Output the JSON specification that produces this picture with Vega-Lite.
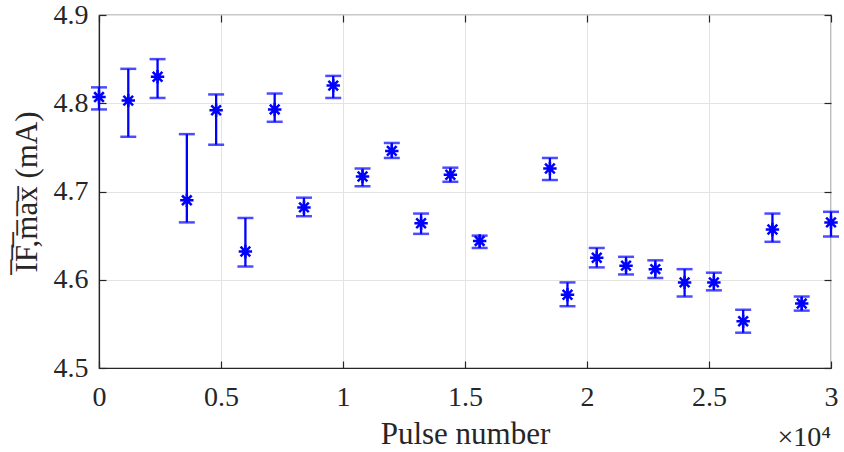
{
  "$schema": "https://vega.github.io/schema/vega-lite/v6.json",
  "width": 732,
  "height": 353,
  "autosize": "none",
  "padding": {"left": 99, "top": 15, "right": 13, "bottom": 84},
  "background": "white",
  "config": {
    "font": "Liberation Serif, Times New Roman, serif",
    "view": {"stroke": "#262626", "strokeWidth": 1.2},
    "axis": {
      "labelFont": "Liberation Serif, Times New Roman, serif",
      "titleFont": "Liberation Serif, Times New Roman, serif",
      "labelFontSize": 28,
      "titleFontSize": 31,
      "labelColor": "#262626",
      "titleColor": "#262626",
      "titleFontWeight": "normal",
      "labelFlush": false,
      "domainColor": "#262626",
      "domainWidth": 1.2,
      "tickColor": "#262626",
      "tickWidth": 1.2,
      "tickSize": -7,
      "gridColor": "#e3e3e3",
      "gridWidth": 1
    }
  },
  "title": {
    "text": "×10⁴",
    "orient": "bottom",
    "anchor": "end",
    "frame": "group",
    "fontSize": 28,
    "fontWeight": "normal",
    "font": "Liberation Serif, Times New Roman, serif",
    "color": "#262626",
    "offset": -25
  },
  "data": {
    "values": [
      {"pulse": 0, "mean": 4.807, "lo": 4.793, "hi": 4.818},
      {"pulse": 1200, "mean": 4.803, "lo": 4.762, "hi": 4.839},
      {"pulse": 2400, "mean": 4.830, "lo": 4.806, "hi": 4.850},
      {"pulse": 3600, "mean": 4.690, "lo": 4.665, "hi": 4.765},
      {"pulse": 4800, "mean": 4.792, "lo": 4.753, "hi": 4.810},
      {"pulse": 6000, "mean": 4.632, "lo": 4.615, "hi": 4.670},
      {"pulse": 7200, "mean": 4.793, "lo": 4.779, "hi": 4.811},
      {"pulse": 8400, "mean": 4.682, "lo": 4.672, "hi": 4.693},
      {"pulse": 9600, "mean": 4.820, "lo": 4.806, "hi": 4.831},
      {"pulse": 10800, "mean": 4.717, "lo": 4.706, "hi": 4.726},
      {"pulse": 12000, "mean": 4.746, "lo": 4.738, "hi": 4.755},
      {"pulse": 13200, "mean": 4.664, "lo": 4.652, "hi": 4.675},
      {"pulse": 14400, "mean": 4.719, "lo": 4.711, "hi": 4.727},
      {"pulse": 15600, "mean": 4.644, "lo": 4.636, "hi": 4.650},
      {"pulse": 18480, "mean": 4.726, "lo": 4.713, "hi": 4.738},
      {"pulse": 19200, "mean": 4.583, "lo": 4.570, "hi": 4.597},
      {"pulse": 20400, "mean": 4.625, "lo": 4.614, "hi": 4.636},
      {"pulse": 21600, "mean": 4.616, "lo": 4.606, "hi": 4.626},
      {"pulse": 22800, "mean": 4.612, "lo": 4.602, "hi": 4.622},
      {"pulse": 24000, "mean": 4.597, "lo": 4.581, "hi": 4.612},
      {"pulse": 25200, "mean": 4.597, "lo": 4.588, "hi": 4.608},
      {"pulse": 26400, "mean": 4.553, "lo": 4.540, "hi": 4.566},
      {"pulse": 27600, "mean": 4.657, "lo": 4.643, "hi": 4.675},
      {"pulse": 28800, "mean": 4.573, "lo": 4.565, "hi": 4.581},
      {"pulse": 30000, "mean": 4.665, "lo": 4.649, "hi": 4.677}
    ]
  },
  "layer": [
    {
      "mark": {"type": "errorbar", "ticks": {"size": 16, "thickness": 2.5, "color": "#0000ff"}, "rule": {"strokeWidth": 2.3, "color": "#0000ff"}, "color": "#0000ff", "clip": false},
      "encoding": {
        "x": {
          "field": "pulse", "type": "quantitative",
          "scale": {"domain": [0, 30000], "nice": false},
          "axis": {
            "values": [0, 5000, 10000, 15000, 20000, 25000, 30000],
            "labelExpr": "'' + datum.value / 10000",
            "title": "Pulse number",
            "labelPadding": 22,
            "titlePadding": 8
          }
        },
        "y": {
          "field": "lo", "type": "quantitative",
          "scale": {"domain": [4.5, 4.9], "nice": false, "zero": false},
          "axis": {
            "values": [4.5, 4.6, 4.7, 4.8, 4.9],
            "format": ".1f",
            "title": "I̅F̅,̅m̅a̅x̅ (mA)",
            "labelPadding": 18,
            "titlePadding": 10
          }
        },
        "y2": {"field": "hi"}
      }
    },
    {
      "mark": {
        "type": "point",
        "shape": "M0,-1L0,1M-1,0L1,0M-0.72,-0.72L0.72,0.72M-0.72,0.72L0.72,-0.72",
        "filled": false,
        "size": 180,
        "strokeWidth": 2.5,
        "color": "#0000ff",
        "opacity": 1,
        "clip": false
      },
      "encoding": {
        "x": {
          "field": "pulse", "type": "quantitative",
          "axis": {
            "orient": "top",
            "values": [0, 5000, 10000, 15000, 20000, 25000, 30000],
            "labels": false, "grid": false, "domain": false, "title": null
          }
        },
        "y": {
          "field": "mean", "type": "quantitative",
          "axis": {
            "orient": "right",
            "values": [4.5, 4.6, 4.7, 4.8, 4.9],
            "labels": false, "grid": false, "domain": false, "title": null
          }
        }
      }
    }
  ],
  "resolve": {"axis": {"x": "independent", "y": "independent"}}
}
